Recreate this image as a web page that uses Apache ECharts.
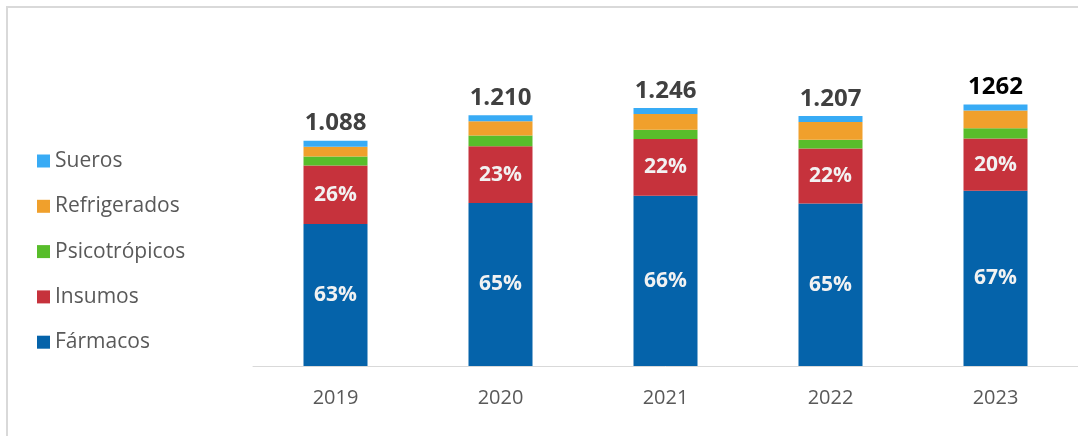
<!DOCTYPE html>
<html>
<head>
<meta charset="utf-8">
<script src="https://cdn.jsdelivr.net/npm/echarts@6/dist/echarts.min.js"></script>
<style>
html,body{margin:0;padding:0;background:#fff;}
#frame{position:absolute;left:6px;top:6px;width:1072px;height:430px;border-left:2px solid #d9d9d9;border-top:2px solid #d9d9d9;box-sizing:border-box;}
#chart{position:absolute;left:0;top:0;width:1078px;height:436px;}
</style>
</head>
<body>
<div id="frame"></div>
<div id="chart"></div>
<script>
const categories = ['2019', '2020', '2021', '2022', '2023'];
const farmacos = [685, 787, 822, 785, 846];
const insumos = [283, 274, 274, 265, 252];
const psicotropicos = [43, 52, 44, 42, 50];
const refrigerados = [48, 68, 77, 86, 85];
const sueros = [29, 29, 29, 29, 29];
const totalLabels = ['1.088', '1.210', '1.246', '1.207', '1262'];
const legendOrder = ['Sueros', 'Refrigerados', 'Psicotrópicos', 'Insumos', 'Fármacos'];

const totals = categories.map((_, i) => farmacos[i] + insumos[i] + psicotropicos[i] + refrigerados[i] + sueros[i]);
const FONT = '"Open Sans", sans-serif';

const pctLabel = {
  show: true,
  position: 'inside',
  color: '#f2f2f2',
  fontFamily: FONT,
  fontWeight: 'bold',
  fontSize: 21,
  formatter: p => Math.round(p.value / totals[p.dataIndex] * 100) + '%'
};

function seg(name, data, color, label) {
  return {
    name, type: 'bar', stack: 'total', data,
    barWidth: 64,
    itemStyle: { color },
    label: label || { show: false },
    emphasis: { disabled: true }
  };
}

const suerosData = sueros.map((v, i) => ({
  value: v,
  label: { color: i === sueros.length - 1 ? '#000000' : '#404040' }
}));

const chart = echarts.init(document.getElementById('chart'), null, { renderer: 'canvas' });
chart.setOption({
  animation: false,
  backgroundColor: 'transparent',
  textStyle: { fontFamily: FONT },
  legend: {
    data: legendOrder,
    orient: 'vertical',
    left: 37,
    top: 150,
    padding: 0,
    icon: 'rect',
    itemWidth: 13,
    itemHeight: 13,
    itemGap: 23.3,
    textStyle: { color: '#595959', fontSize: 21, fontFamily: FONT, lineHeight: 22, padding: [0, 0, 0, 0] },
    selectedMode: false
  },
  grid: { left: 253, right: 0, top: 76, bottom: 70, containLabel: false },
  xAxis: {
    type: 'category',
    data: categories,
    axisLine: { lineStyle: { color: '#d9d9d9', width: 1 } },
    axisTick: { show: false },
    axisLabel: { color: '#595959', fontSize: 20, fontFamily: FONT, margin: 22 }
  },
  yAxis: {
    type: 'value', min: 0, max: 1400, show: false,
    splitLine: { show: false }
  },
  series: [
    seg('Fármacos', farmacos, '#0563aa', pctLabel),
    seg('Insumos', insumos, '#c6323c', pctLabel),
    seg('Psicotrópicos', psicotropicos, '#58bd2b'),
    seg('Refrigerados', refrigerados, '#f0a02c'),
    seg('Sueros', suerosData, '#38abf5', {
      show: true,
      position: 'top',
      distance: 5,
      fontFamily: FONT,
      fontWeight: 'bold',
      fontSize: 24,
      formatter: p => totalLabels[p.dataIndex]
    })
  ]
});
</script>
</body>
</html>
